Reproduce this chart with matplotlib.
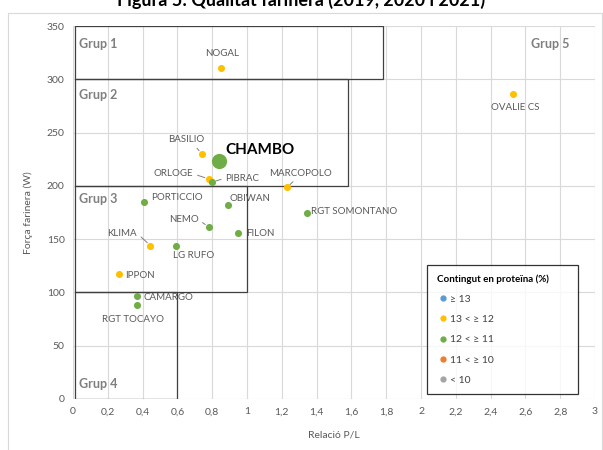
import matplotlib.pyplot as plt
from matplotlib.lines import Line2D
from matplotlib.patches import Rectangle

plt.rcParams['font.family'] = ['Lato', 'DejaVu Sans']

# varietats: relacio P/L, forca farinera W, categoria de proteina
varietats = ['NOGAL', 'OVALIE CS', 'BASILIO', 'CHAMBO', 'ORLOGE', 'PIBRAC',
             'MARCOPOLO', 'PORTICCIO', 'OBIWAN', 'RGT SOMONTANO', 'NEMO',
             'FILON', 'KLIMA', 'LG RUFO', 'IPPON', 'CAMARGO', 'RGT TOCAYO']
pl = [0.85, 2.53, 0.74, 0.84, 0.78, 0.80, 1.23, 0.41, 0.89, 1.345, 0.78,
      0.95, 0.445, 0.59, 0.265, 0.37, 0.365]
w = [311, 286, 230, 223, 206.5, 203.5, 198.5, 185, 182, 174.5, 161.5,
     155.5, 144, 144, 117.5, 97, 88]
proteina = [1, 1, 1, 2, 1, 2, 1, 2, 2, 2, 2, 2, 1, 2, 1, 2, 2]

categories = ['≥ 13', '13 < ≥ 12', '12 < ≥ 11', '11 < ≥ 10', '< 10']
colors = ['#5B9BD5', '#FFC000', '#70AD47', '#ED7D31', '#A5A5A5']

grups = ['Grup 1', 'Grup 2', 'Grup 3', 'Grup 4']
grup_xmax = [1.78, 1.58, 1.0, 0.6]
grup_ymin = [300, 200, 100, 0]
grup_ymax = [350, 300, 200, 100]

# label placement: offset in pixels, ha, leader line relpos (None = no line)
label_pos = {
    'NOGAL': ((1, 14), 'center', None),
    'OVALIE CS': ((2, -13), 'center', None),
    'BASILIO': ((-16, 14), 'center', (0.7, 0.1)),
    'CHAMBO': ((6, 11), 'left', None),
    'ORLOGE': ((-35, 5), 'center', (1.0, 0.5)),
    'PIBRAC': ((13, 4), 'left', (0.0, 0.5)),
    'MARCOPOLO': ((13, 14), 'center', (0.45, 0.0)),
    'PORTICCIO': ((7, 4), 'left', None),
    'OBIWAN': ((2, 7), 'left', None),
    'RGT SOMONTANO': ((4, 2), 'left', None),
    'NEMO': ((-25, 7), 'center', (1.0, 0.5)),
    'FILON': ((8, 0), 'left', None),
    'KLIMA': ((-28, 12), 'center', (1.0, 0.5)),
    'LG RUFO': ((-3, -10), 'left', None),
    'IPPON': ((6, -1.5), 'left', None),
    'CAMARGO': ((6, -1.5), 'left', None),
    'RGT TOCAYO': ((-4, -14), 'center', None),
}

fig = plt.figure(figsize=(6.03, 4.5), dpi=100)
ax = fig.add_axes([73/603, 51/450, 522/603, 373/450])

fig.patches.append(Rectangle((8/603, -0.05), 594/603, 1.05 - 13/450,
                             transform=fig.transFigure, fill=False,
                             edgecolor='#D9D9D9', lw=0.8))
fig.text(0.5, 1.0, 'Figura 5: Qualitat farinera (2019, 2020 i 2021)',
         ha='center', va='center', fontsize=13, fontweight='bold')

ax.set_xlim(0, 3)
ax.set_ylim(0, 350)
ax.set_xticks([i * 0.2 for i in range(16)])
ax.set_xticklabels([('%g' % round(i * 0.2, 1)).replace('.', ',') for i in range(16)])
ax.set_yticks(range(0, 351, 50))
ax.grid(True, color='#D9D9D9', lw=0.8)
ax.set_axisbelow(True)
for s in ax.spines.values():
    s.set_visible(False)
ax.tick_params(length=0, labelsize=7.5, labelcolor='#595959', pad=6)
ax.set_xlabel('Relació P/L', fontsize=7.5, color='#595959', labelpad=10)
ax.set_ylabel('Força farinera (W)', fontsize=7.5, color='#595959', labelpad=10)

for g, xm, y0, y1 in zip(grups, grup_xmax, grup_ymin, grup_ymax):
    ax.add_patch(Rectangle((0.01, y0), xm - 0.01, y1 - y0, fill=False,
                           edgecolor='#404040', lw=0.9, zorder=2))
label_y = [333, 285, 187.5, 14]
for g, ly in zip(grups, label_y):
    ax.text(0.035, ly, g, fontsize=9, fontweight='bold', color='#7F7F7F',
            va='center', ha='left')
ax.text(2.63, 333, 'Grup 5', fontsize=9, fontweight='bold', color='#7F7F7F',
        va='center', ha='left')

for name, x, y, p in zip(varietats, pl, w, proteina):
    big = name == 'CHAMBO'
    ax.scatter(x, y, s=120 if big else 26, color=colors[p], zorder=4,
               linewidths=0)
    off, ha, rel = label_pos[name]
    kw = dict(fontsize=11, fontweight='bold', color='black') if big else \
        dict(fontsize=7, color='#595959')
    arrow = None
    if rel is not None:
        arrow = dict(arrowstyle='-', color='#7F7F7F', lw=0.7, relpos=rel,
                     shrinkA=1, shrinkB=3)
    ax.annotate(name, (x, y), xytext=off, textcoords='offset pixels',
                ha=ha, va='center', arrowprops=arrow, zorder=5, **kw)

handles = [Line2D([], [], marker='o', ls='', color=c, markersize=3.5)
           for c in colors]
leg = ax.legend(handles, categories, title='Contingut en proteïna (%)',
                loc='upper left', bbox_to_anchor=(422/603, 1 - 264/450, 161/603, 0.01),
                bbox_transform=fig.transFigure, mode='expand', frameon=True,
                fancybox=False, edgecolor='black', fontsize=7.5,
                title_fontproperties={'weight': 'bold', 'size': 7},
                labelspacing=1.05, handletextpad=0.1, handlelength=1.2,
                borderpad=0.9, labelcolor='#404040')
leg.get_frame().set_linewidth(0.9)
leg._legend_box.align = 'left'

fig.savefig('out.png', dpi=100)
